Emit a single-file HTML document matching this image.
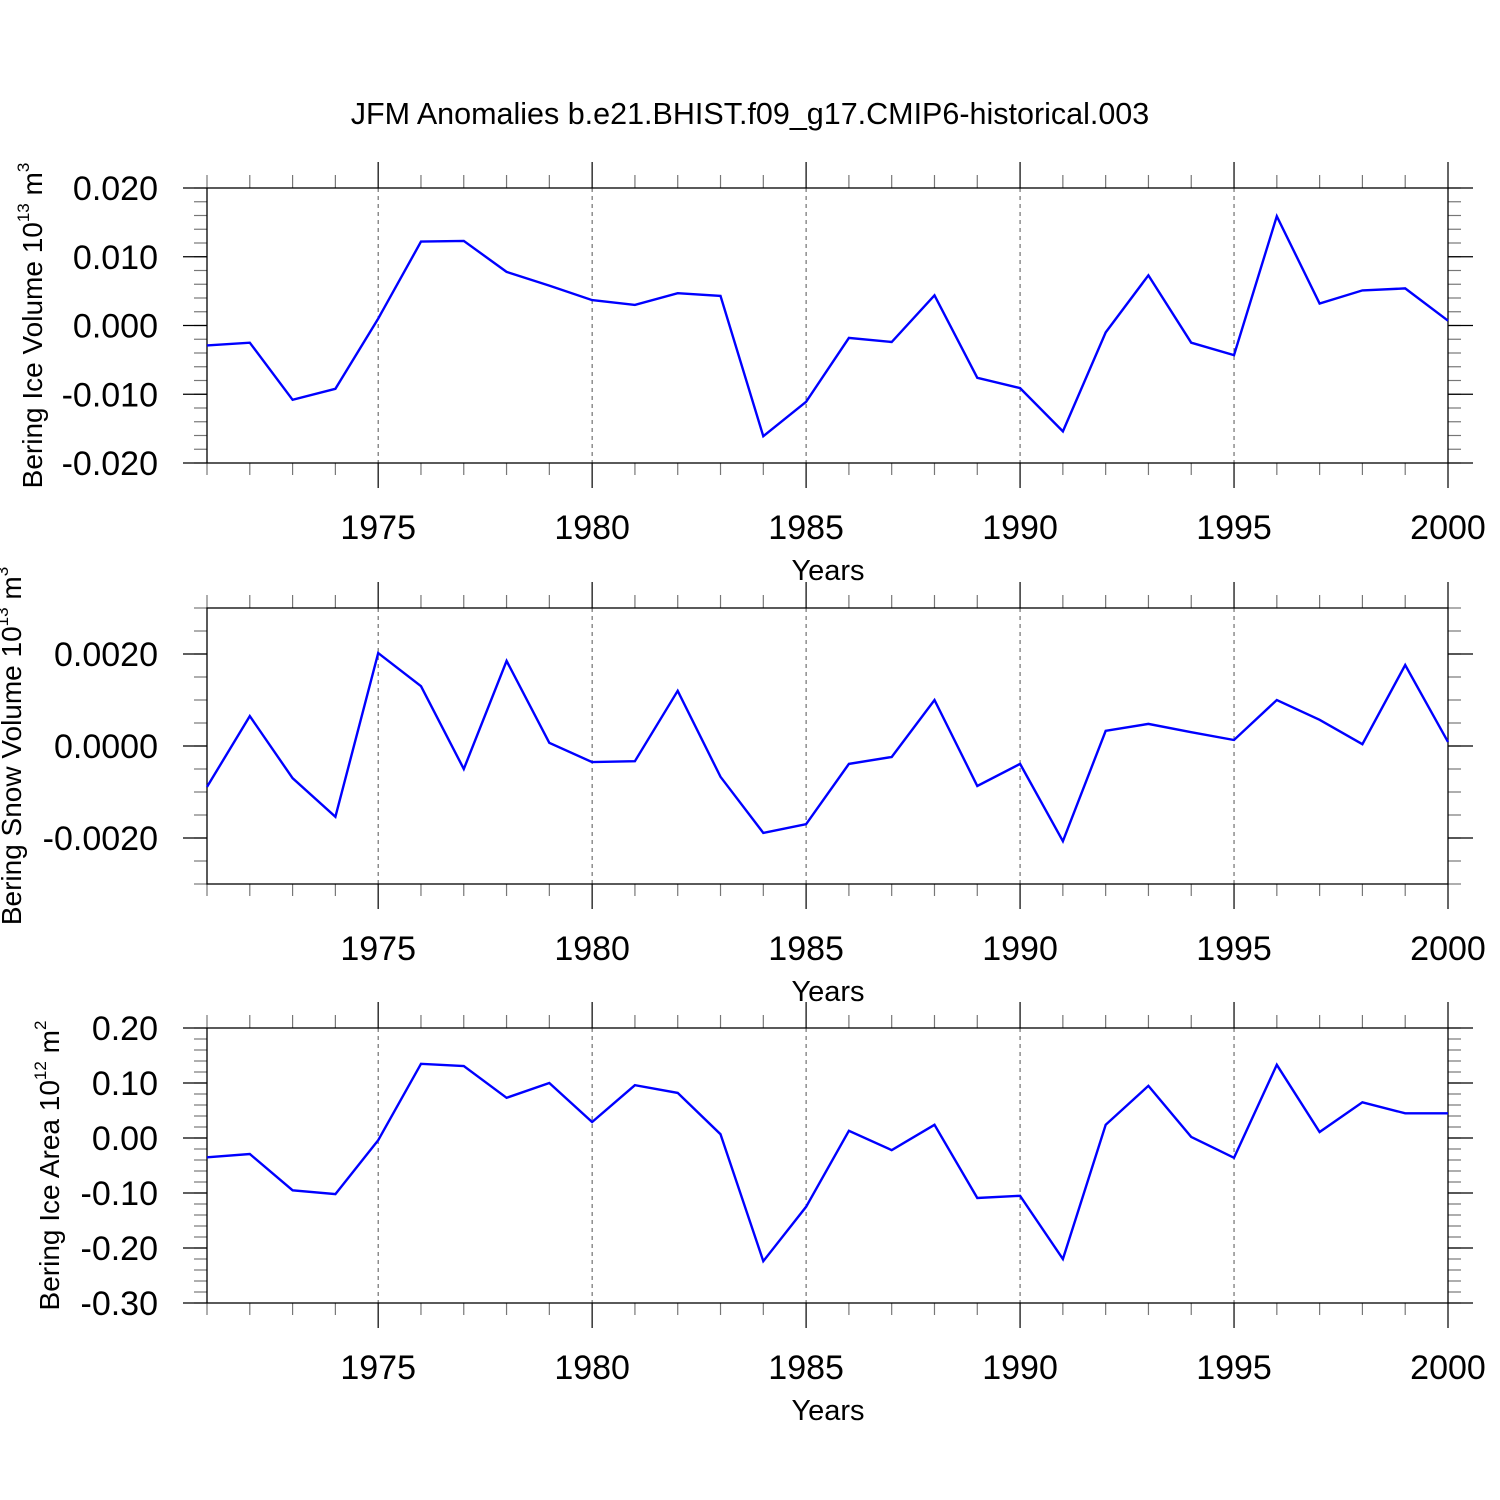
<!DOCTYPE html>
<html><head><meta charset="utf-8"><style>
body{margin:0;background:#fff}
svg{display:block;font-family:"Liberation Sans",Arial,sans-serif}
</style></head><body>
<svg id="c" width="1500" height="1500" viewBox="0 0 1500 1500">
<text x="750" y="124" font-size="30.5" text-anchor="middle">JFM Anomalies b.e21.BHIST.f09_g17.CMIP6-historical.003</text>
</svg>
<script>
const years=[1971,1972,1973,1974,1975,1976,1977,1978,1979,1980,1981,1982,1983,1984,1985,1986,1987,1988,1989,1990,1991,1992,1993,1994,1995,1996,1997,1998,1999,2000];
const iceVolume=[-0.0029,-0.0025,-0.0108,-0.0092,0.0010,0.0122,0.0123,0.0078,0.0058,0.0037,0.0030,0.0047,0.0043,-0.0161,-0.0111,-0.0018,-0.0024,0.0044,-0.0076,-0.0091,-0.0154,-0.0010,0.0073,-0.0025,-0.0043,0.0159,0.0032,0.0051,0.0054,0.0007];
const snowVolume=[-0.00089,0.00065,-0.0007,-0.00154,0.00202,0.0013,-0.0005,0.00185,0.00007,-0.00035,-0.00033,0.0012,-0.00067,-0.00189,-0.0017,-0.00039,-0.00024,0.001,-0.00087,-0.00039,-0.00207,0.00033,0.00048,0.0003,0.00013,0.001,0.00057,0.00004,0.00176,0.00009];
const iceArea=[-0.035,-0.029,-0.095,-0.102,-0.004,0.135,0.131,0.073,0.1,0.029,0.096,0.082,0.007,-0.224,-0.125,0.013,-0.022,0.024,-0.109,-0.105,-0.22,0.024,0.095,0.002,-0.036,0.133,0.011,0.065,0.045,0.045];
const xTickYears=[1975,1980,1985,1990,1995,2000];
const iceVolTicks=[0.02,0.01,0,-0.01,-0.02];
const iceVolLabels=["0.020","0.010","0.000","-0.010","-0.020"];
const snowTicks=[0.002,0,-0.002];
const snowLabels=["0.0020","0.0000","-0.0020"];
const areaTicks=[0.2,0.1,0,-0.1,-0.2,-0.3];
const areaLabels=["0.20","0.10","0.00","-0.10","-0.20","-0.30"];

const svg=document.getElementById('c');
const NS='http://www.w3.org/2000/svg';
const X0=207,X1=1448;
const xs=y=>X0+(y-1971)*(X1-X0)/(2000-1971);
function mk(t,a,p){const e=document.createElementNS(NS,t);for(const k in a)e.setAttribute(k,a[k]);(p||svg).appendChild(e);return e;}
function panel(name,top,bot,ymin,ymax,minorStep,vals,ticks,labels,title,sup,titleX){
  const g=mk('g',{});
  
  
  const ys=v=>bot-(v-ymin)*(bot-top)/(ymax-ymin);
  xTickYears.forEach(y=>{if(y<2000){const l=mk('line',{x1:xs(y),x2:xs(y),y1:top,y2:bot,stroke:'#555','stroke-width':1,'stroke-dasharray':'4,4'},g);
    
    }});
  const n=Math.round((ymax-ymin)/minorStep);
  for(let i=0;i<=n;i++){const v=ymin+i*minorStep,y=ys(v);
    mk('line',{x1:X0-13,x2:X0,y1:y,y2:y,stroke:'#777','stroke-width':1.2},g);
    mk('line',{x1:X1,x2:X1+13,y1:y,y2:y,stroke:'#777','stroke-width':1.2},g);}
  ticks.forEach((v,i)=>{const y=ys(v);
    mk('line',{x1:X0-24,x2:X0,y1:y,y2:y,stroke:'#000','stroke-width':1.2},g);
    mk('line',{x1:X1,x2:X1+25,y1:y,y2:y,stroke:'#000','stroke-width':1.2},g);
    const t=mk('text',{x:158,y:y+12,'font-size':34,'text-anchor':'end'},g);t.textContent=labels[i];
    
    });
  years.forEach(yr=>{const x=xs(yr);const M=xTickYears.includes(yr);const L=M?25:12;
    mk('line',{x1:x,x2:x,y1:top-L-1,y2:top,stroke:M?'#000':'#777','stroke-width':1.2},g);
    mk('line',{x1:x,x2:x,y1:bot,y2:bot+L,stroke:M?'#000':'#777','stroke-width':1.2},g);});
  xTickYears.forEach(yr=>{const t=mk('text',{x:xs(yr),y:bot+76,'font-size':34,'text-anchor':'middle'},g);t.textContent=yr;
    
    });
  const yt=mk('text',{x:828,y:bot+117,'font-size':29,'text-anchor':'middle'},g);yt.textContent='Years';
  
  
  mk('rect',{x:X0,y:top,width:X1-X0,height:bot-top,fill:'none',stroke:'#000','stroke-width':1.3},g);
  const pts=vals.map((v,i)=>xs(years[i]).toFixed(1)+','+ys(v).toFixed(1)).join(' ');
  const pl=mk('polyline',{points:pts,fill:'none',stroke:'#0000ff','stroke-width':2.4,'stroke-linejoin':'miter'},g);
  
  
  const cy=(top+bot)/2;
  const tt=mk('text',{transform:`translate(${titleX},${cy}) rotate(-90)`,'font-size':28,'text-anchor':'middle'},g);
  tt.innerHTML=title+' 10<tspan font-size="17" dy="-13">'+sup+'</tspan><tspan dy="13"> m</tspan><tspan font-size="17" dy="-13">'+(name==='ice-area'?'2':'3')+'</tspan>';
  
  
}
panel('ice-volume',188,463,-0.02,0.02,0.002,iceVolume,iceVolTicks,iceVolLabels,'Bering Ice Volume','13',42);
panel('snow-volume',608,884,-0.003,0.003,0.0005,snowVolume,snowTicks,snowLabels,'Bering Snow Volume','13',21);
panel('ice-area',1028,1303,-0.3,0.2,0.02,iceArea,areaTicks,areaLabels,'Bering Ice Area','12',59);
</script>
</body></html>
